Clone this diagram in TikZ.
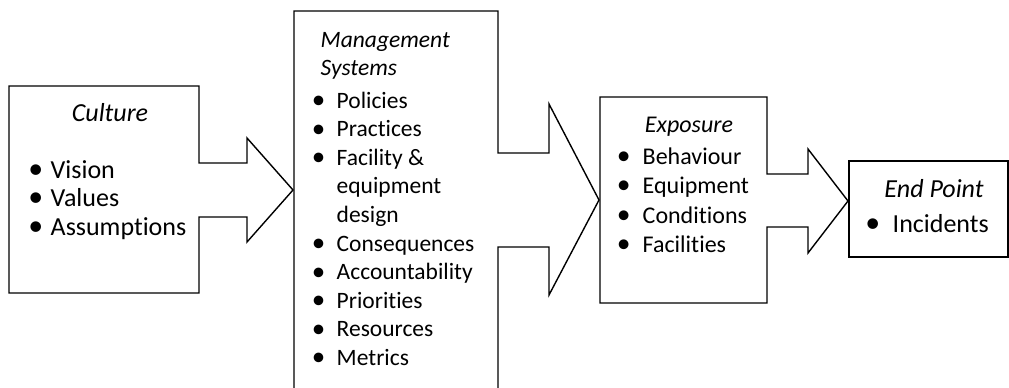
\documentclass[tikz,border=0pt]{standalone}
\usepackage{fontspec}
\setmainfont{Carlito}[Ligatures = NoCommon]
\newcommand{\bul}[1]{\llap{\makebox[#1pt]{\raisebox{-0.4pt}{\scalebox{1.15}{\textbullet}}}}}
\newcommand{\culturesize}{\fontsize{26}{28}\selectfont}
\newcommand{\mgmtsize}{\fontsize{23.5}{28}\selectfont}
\newcommand{\exposize}{\fontsize{24}{28}\selectfont}
\newcommand{\pointsize}{\fontsize{26}{28}\selectfont}

\begin{document}
\begin{tikzpicture}[x = 1pt, y = -1pt, line width = 1.4pt,
		title/.style = {anchor = base, inner sep = 0},
		item/.style = {anchor = base west, inner sep = 0}]
	\useasboundingbox (0, 0) rectangle (1009, 388);

	\draw (9, 86) -- (199, 86) -- (199, 163) -- (247, 163) -- (247, 138) -- (293, 190) -- (247, 242) -- (247, 217) -- (199, 217) -- (199, 293) -- (9, 293) -- cycle;
	\draw (294, 392) -- (294, 11) -- (498, 11) -- (498, 153) -- (549, 153) -- (549, 104) -- (599, 200) -- (549, 295) -- (549, 247) -- (498, 247) -- (498, 392);
	\draw (600, 97) -- (767, 97) -- (767, 174) -- (808, 174) -- (808, 149) -- (848, 201) -- (808, 253) -- (808, 227) -- (767, 227) -- (767, 303) -- (600, 303) -- cycle;
	\draw (849, 161) -- (1008, 161) -- (1008, 257) -- (849, 257) -- cycle;

	\node [title, font = \culturesize\itshape] (culture) at (110, 121) {Culture};
	\foreach \t [count = \i] in {Vision, Values, Assumptions} {
		\node [item, font = \culturesize] (cult\i) at (50, {178 + 28.5 * (\i - 1)}) {\bul{30}\t};
	}

	\node [item, font = \mgmtsize\itshape] (mgmt) at (320, 47) {Management};
	\node [item, font = \mgmtsize\itshape] (systems) at (320, 75) {Systems};
	\foreach \t [count = \i] in {\bul{36}Policies, \bul{36}Practices, \bul{36}Facility \&, equipment, design, \bul{36}Consequences, \bul{36}Accountability, \bul{36}Priorities, \bul{36}Resources, \bul{36}Metrics} {
		\node [item, font = \mgmtsize] (mgmt\i) at (336, {108 + 28.6 * (\i - 1)}) {\t};
	}

	\node [title, font = \exposize\itshape] (exposure) at (689, 132) {Exposure};
	\foreach \t [count = \i] in {Behaviour, Equipment, Conditions, Facilities} {
		\node [item, font = \exposize] (expo\i) at (642, {164 + 29.5 * (\i - 1)}) {\bul{38}\t};
	}

	\node [title, font = \pointsize\itshape] (endpoint) at (934, 197) {End Point};
	\node [item, font = \pointsize] (end1) at (892, 232) {\bul{40}Incidents};
\end{tikzpicture}
\end{document}
